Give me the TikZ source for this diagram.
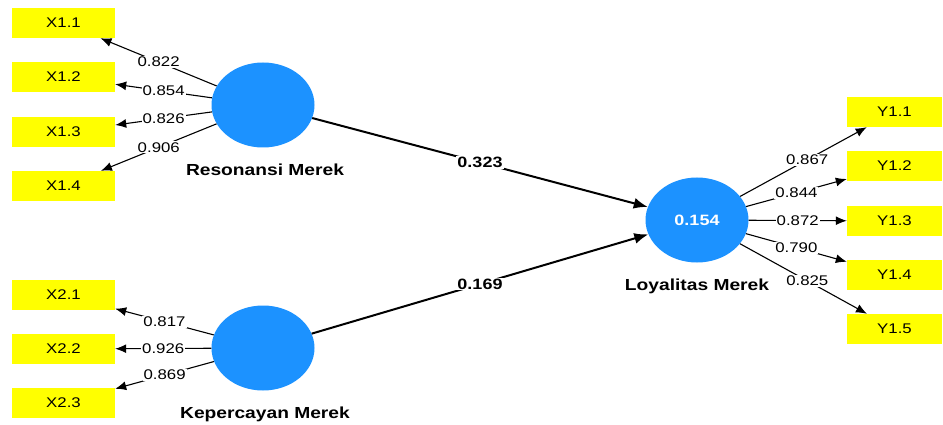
\documentclass[tikz,border=0pt]{standalone}
\usepackage{fontspec}
\setmainfont{Liberation Sans}[FakeStretch=1.2]
\usepackage{xcolor}
\usetikzlibrary{arrows.meta,positioning,shapes.geometric}

\definecolor{latblue}{RGB}{28,146,255}
\definecolor{indyellow}{RGB}{255,255,0}

\begin{document}
\begin{tikzpicture}[x=1pt, y=-1pt,
  ind/.style={fill=indyellow, minimum width=103pt, minimum height=30pt,
    inner sep=0pt, font=\fontsize{14}{16}\selectfont},
  indy/.style={ind, minimum width=95pt},
  lat/.style={ellipse, fill=latblue, minimum width=103pt,
    minimum height=85pt, inner sep=0pt, text=white,
    font=\fontsize{15}{17}\selectfont\bfseries},
  latname/.style={font=\fontsize{16}{18}\selectfont\bfseries},
  load/.style={-{Latex[length=11pt,width=9pt]}, line width=1.1pt},
  struct/.style={-{Latex[length=14pt,width=11pt]}, line width=2pt},
  lbl/.style={fill=white, inner sep=1pt, font=\fontsize{14}{16}\selectfont},
  coef/.style={lbl, font=\fontsize{15}{17}\selectfont\bfseries},
]

\fill[white] (0,0) rectangle (943,425);
\useasboundingbox (0,0) rectangle (943,425);

% Latent variables
\node[lat] (res) at (263,105) {};
\node[lat] (kep) at (263,348) {};
\node[lat] (loy) at (697,220) {0.154};
\node[latname] (resname) at (265,170) {Resonansi Merek};
\node[latname] (kepname) at (265,414) {Kepercayan Merek};
\node[latname] (loyname) at (697,286) {Loyalitas Merek};

% Indicators
\node[ind] (x11) at (63.5,23) {X1.1};
\node[ind] (x12) at (63.5,77) {X1.2};
\node[ind] (x13) at (63.5,132) {X1.3};
\node[ind] (x14) at (63.5,186) {X1.4};
\node[ind] (x21) at (63.5,295) {X2.1};
\node[ind] (x22) at (63.5,349) {X2.2};
\node[ind] (x23) at (63.5,403) {X2.3};
\node[indy] (y11) at (894.5,112) {Y1.1};
\node[indy] (y12) at (894.5,166) {Y1.2};
\node[indy] (y13) at (894.5,221) {Y1.3};
\node[indy] (y14) at (894.5,275) {Y1.4};
\node[indy] (y15) at (894.5,329) {Y1.5};

% Outer loadings
\draw[load] (res) -- (x11) node[lbl, midway] {0.822};
\draw[load] (res) -- (x12) node[lbl, midway] {0.854};
\draw[load] (res) -- (x13) node[lbl, midway] {0.826};
\draw[load] (res) -- (x14) node[lbl, midway] {0.906};
\draw[load] (kep) -- (x21) node[lbl, midway] {0.817};
\draw[load] (kep) -- (x22) node[lbl, midway] {0.926};
\draw[load] (kep) -- (x23) node[lbl, midway] {0.869};
\draw[load] (loy) -- (y11) node[lbl, pos=0.53] {0.867};
\draw[load] (loy) -- (y12) node[lbl, midway] {0.844};
\draw[load] (loy) -- (y13) node[lbl, midway] {0.872};
\draw[load] (loy) -- (y14) node[lbl, midway] {0.790};
\draw[load] (loy) -- (y15) node[lbl, pos=0.53] {0.825};

% Path coefficients
\draw[struct] (res) -- (loy) node[coef, midway] {0.323};
\draw[struct] (kep) -- (loy) node[coef, midway] {0.169};

\end{tikzpicture}
\end{document}
